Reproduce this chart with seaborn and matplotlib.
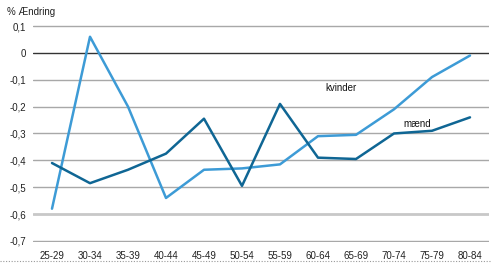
import matplotlib
matplotlib.use("Agg")
import matplotlib.pyplot as plt
import seaborn as sns
import pandas as pd
from matplotlib.ticker import FixedLocator, FuncFormatter

categories = ["25-29", "30-34", "35-39", "40-44", "45-49", "50-54", "55-59",
              "60-64", "65-69", "70-74", "75-79", "80-84"]
kvinder = [-0.58, 0.06, -0.20, -0.54, -0.435, -0.43, -0.415, -0.31, -0.305, -0.21, -0.09, -0.01]
maend = [-0.41, -0.485, -0.435, -0.375, -0.245, -0.495, -0.19, -0.39, -0.395, -0.30, -0.29, -0.24]
yticks = [0.1, 0, -0.1, -0.2, -0.3, -0.4, -0.5, -0.6, -0.7]

df = pd.DataFrame({"x": list(range(len(categories))) * 2,
                   "v": kvinder + maend,
                   "s": ["kvinder"] * len(categories) + ["mænd"] * len(categories)})

sns.set_style("white")
plt.rcParams['font.family'] = ['Liberation Sans', 'DejaVu Sans']

fig = plt.figure(figsize=(4.91, 2.64), dpi=100)
ax = fig.add_axes([0.0672, 0.0822, 0.9287, 0.8244])

for y in yticks:
    if y == 0:
        ax.axhline(y, color="#333333", lw=1.0, zorder=1)
    elif y == -0.6:
        ax.axhline(y, color="#c8c8c8", lw=2.0, zorder=1)
    else:
        ax.axhline(y, color="#a8a8a8", lw=1.0, zorder=1)

sns.lineplot(data=df, x="x", y="v", hue="s", palette={"kvinder": "#3d9bd6", "mænd": "#0f6694"},
             lw=1.8, legend=False, ax=ax, zorder=3)

ax.set_xlim(-0.5, 11.5)
ax.set_ylim(-0.705, 0.105)
ax.yaxis.set_major_locator(FixedLocator(yticks))
ax.yaxis.set_major_formatter(FuncFormatter(lambda v, p: ("%g" % round(v, 1)).replace(".", ",")))
ax.set_xticks(range(len(categories)))
ax.set_xticklabels(categories)
ax.tick_params(axis="both", length=0, labelsize=7, colors="#222222")
ax.tick_params(axis="x", pad=6)
ax.tick_params(axis="y", pad=5)
ax.set_xlabel("")
ax.set_ylabel("")
for sp in ax.spines.values():
    sp.set_visible(False)

ax.text(7.6, -0.13, "kvinder", fontsize=7, color="#111111", ha="center", va="center")
ax.text(9.6, -0.265, "mænd", fontsize=7, color="#111111", ha="center", va="center")
fig.text(0.014, 0.955, "% Ændring", fontsize=7, color="#222222", ha="left", va="center")

fig.add_artist(plt.Line2D([0, 1], [0.012, 0.012], transform=fig.transFigure,
                          color="#999999", lw=0.8, ls=(0, (1, 1.5))))

fig.savefig("out.png", dpi=100)
